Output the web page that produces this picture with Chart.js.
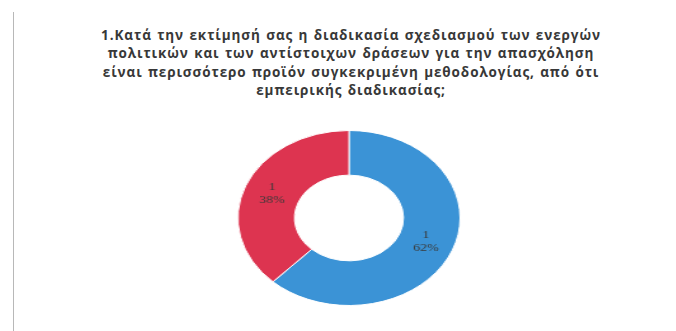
<!DOCTYPE html>
<html>
<head>
<meta charset="utf-8">
<script src="https://cdn.jsdelivr.net/npm/chart.js@4"></script>
<style>
    body {
        margin: 0;
        width: 676px;
        height: 331px;
        background: #fff;
        position: relative;
        overflow: hidden;
    }
    /* trait vertical à gauche de la page */
    .page-edge {
        position: absolute;
        left: 13px;
        top: 12px;
        width: 1px;
        height: 319px;
        background: #b8b8b8;
    }
    .title {
        position: absolute;
        left: 0;
        top: 26px;
        width: 702px;
        text-align: center;
        font-family: "Open Sans", sans-serif;
        font-weight: bold;
        font-size: 13.5px;
        letter-spacing: 0.9px;
        word-spacing: 1px;
        line-height: 18.3px;
        color: #383838;
    }
    /* le donut est étiré horizontalement */
    .chart-box {
        position: absolute;
        left: 261px;
        top: 130px;
        width: 176px;
        height: 176px;
        transform: scaleX(1.27);
        transform-origin: center center;
    }
</style>
</head>
<body>
<div class="page-edge"></div>
<div class="title" id="title"></div>
<div class="chart-box"><canvas id="myChart" width="176" height="176"></canvas></div>

<script>
// Données
const titleLines = [
    '1.Κατά την εκτίμησή σας η διαδικασία σχεδιασμού των ενεργών',
    'πολιτικών και των αντίστοιχων δράσεων για την απασχόληση',
    'είναι περισσότερο προϊόν συγκεκριμένη μεθοδολογίας, από ότι',
    'εμπειρικής διαδικασίας;'
];
const categories = ['1', '1'];
const values = [62, 38];
const colors = ['#3b93d6', '#dd3450'];

// Titre
document.getElementById('title').innerHTML = titleLines.join('<br>');

// Étiquettes dans les parts : catégorie + pourcentage
const sliceLabels = {
    id: 'sliceLabels',
    afterDatasetsDraw(chart) {
        const ctx = chart.ctx;
        const meta = chart.getDatasetMeta(0);
        let total = 0;
        for (let i = 0; i < values.length; i++) {
            total += values[i];
        }
        ctx.save();
        ctx.fillStyle = '#3a3a3a';
        ctx.font = '11px "Liberation Serif", serif';
        ctx.textAlign = 'center';
        ctx.textBaseline = 'middle';
        for (let i = 0; i < meta.data.length; i++) {
            const p = meta.data[i].getCenterPoint();
            const pct = Math.round(values[i] / total * 100) + '%';
            ctx.fillText(chart.data.labels[i], p.x, p.y - 7);
            ctx.fillText(pct, p.x, p.y + 6);
        }
        ctx.restore();
    }
};

const chart = new Chart(document.getElementById('myChart'), {
    type: 'doughnut',
    data: {
        labels: categories,
        datasets: [{
            data: values,
            backgroundColor: colors,
            borderColor: '#fff',
            borderWidth: 1
        }]
    },
    options: {
        responsive: false,
        animation: false,
        cutout: '49%',
        layout: { padding: 0 },
        plugins: {
            legend: { display: false },
            tooltip: { enabled: false }
        }
    },
    plugins: [sliceLabels]
});
</script>
</body>
</html>
